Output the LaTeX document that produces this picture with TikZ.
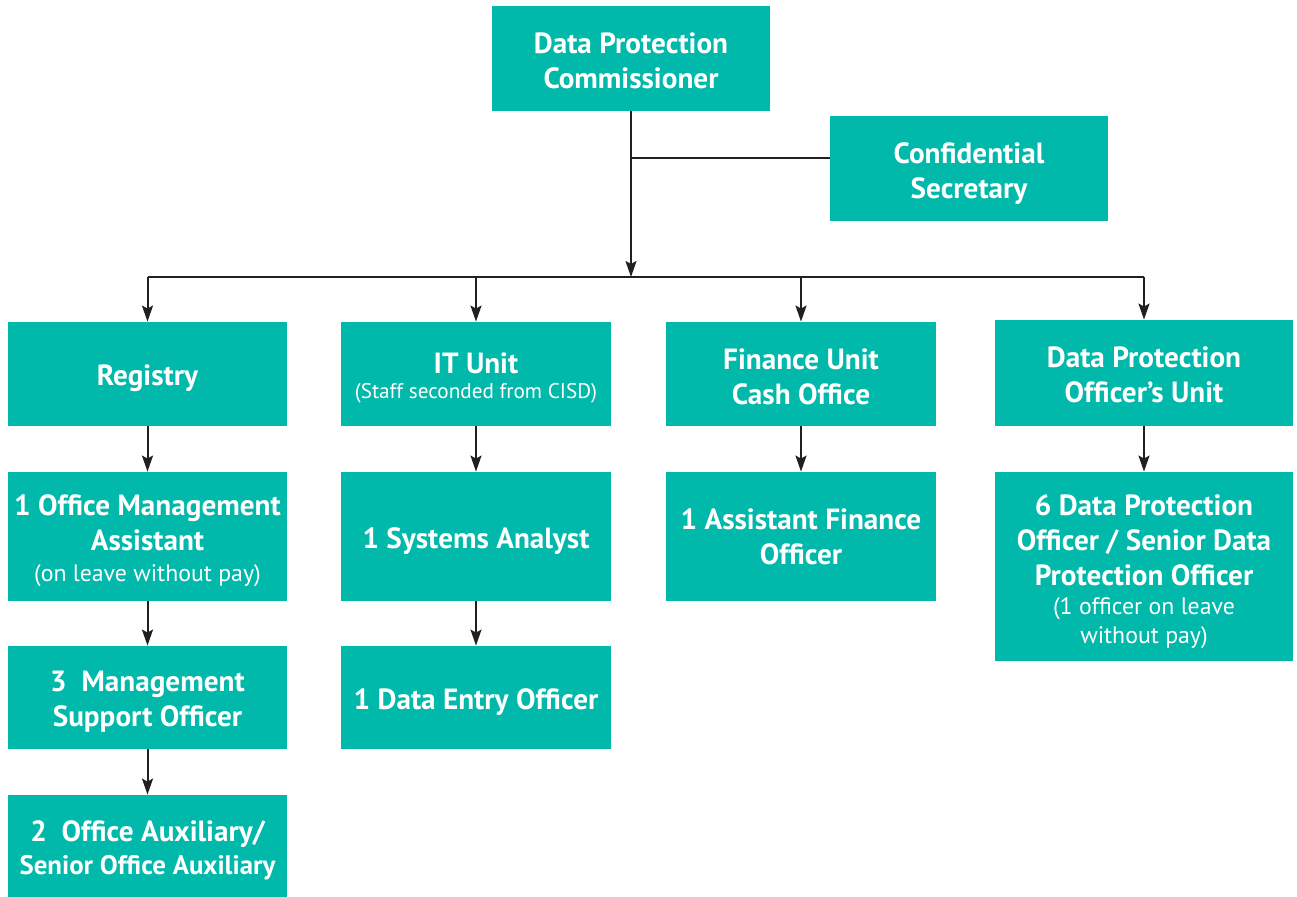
\documentclass[tikz,border=0pt]{standalone}
\usepackage{fontspec}
\setmainfont{PT Sans}
\usetikzlibrary{arrows.meta}
\definecolor{unitfill}{HTML}{00B9AA}
\definecolor{linkgray}{HTML}{231F20}
\newcommand\smalltxt[2][11.9]{{\normalfont\fontsize{#1}{14.5}\selectfont #2}}
\newcommand\lift[1]{\rule{0pt}{#1pt}}
\tikzset{
  unit/.style={fill=unitfill, text=white, align=center, inner sep=0pt,
    font=\bfseries\fontsize{14.6}{17.5}\selectfont,
    execute at begin node={\lift{15}}},
  link/.style={draw=linkgray, line width=1pt},
  arr/.style={link, -{Stealth[length=8pt, width=5.5pt, inset=1.5pt]}}
}
\begin{document}
\begin{tikzpicture}[x=0.5pt, y=-0.5pt]
  \useasboundingbox (0,0) rectangle (1297,897);
  \node[unit, minimum width=139pt, minimum height=52.5pt] (dpc) at (631,58.5) {\lift{13}Data Protection\\Commissioner};
  \node[unit, minimum width=139pt, minimum height=52.5pt] (cs) at (969,168.5) {\lift{15.5}Confidential\\Secretary};
  \node[unit, minimum width=139.5pt, minimum height=52pt] (reg) at (147.5,374) {Registry};
  \node[unit, minimum width=135pt, minimum height=52pt] (it) at (476,374) {\lift{14.5}IT Unit\\[-5pt]\smalltxt[10.6]{(Staff seconded from CISD)}};
  \node[unit, minimum width=135pt, minimum height=52pt] (fin) at (801,374) {\lift{13}Finance Unit\\Cash Office};
  \node[unit, minimum width=149pt, minimum height=53pt] (dpou) at (1144,373) {\lift{12}Data Protection\\Officer’s Unit};
  \node[unit, minimum width=139.5pt, minimum height=64.5pt] (oma) at (147.5,536.5) {\lift{14.5}1 Office Management\\Assistant\\[-2pt]\smalltxt{(on leave without pay)}};
  \node[unit, minimum width=139.5pt, minimum height=51.5pt] (mso) at (147.5,697.5) {\lift{14.5}3~ Management\\Support Officer};
  \node[unit, minimum width=139.5pt, minimum height=51pt] (oa) at (147.5,846) {\lift{14.5}2~ Office Auxiliary/\\[-1pt]{\fontsize{13.4}{16}\selectfont Senior Office Auxiliary}};
  \node[unit, minimum width=135pt, minimum height=64.5pt] (sa) at (476,536.5) {1 Systems Analyst};
  \node[unit, minimum width=135pt, minimum height=51.5pt] (deo) at (476,697.5) {1 Data Entry Officer};
  \node[unit, minimum width=135pt, minimum height=64.5pt] (afo) at (801,536.5) {1 Assistant Finance\\Officer};
  \node[unit, minimum width=149pt, minimum height=94.5pt] (dpo) at (1144,566.5) {\lift{15.5}6 Data Protection\\Officer / Senior Data\\Protection Officer\\[-3pt]\smalltxt{(1 officer on leave}\\[-3pt]\smalltxt{without pay)}};
  \coordinate (tee) at (631,158);
  \coordinate (bar) at (631,277);
  \draw[link] (cs.west |- tee) -- (tee);
  \draw[arr] (dpc.south) -- (bar);
  \draw[link] (reg |- bar) -- (dpou |- bar);
  \foreach \n in {reg,it,fin,dpou}
    \draw[arr] (\n |- bar) -- (\n.north);
  \foreach \a/\b in {reg/oma,oma/mso,mso/oa,it/sa,sa/deo,fin/afo,dpou/dpo}
    \draw[arr] (\a) -- (\b);
\end{tikzpicture}
\end{document}
